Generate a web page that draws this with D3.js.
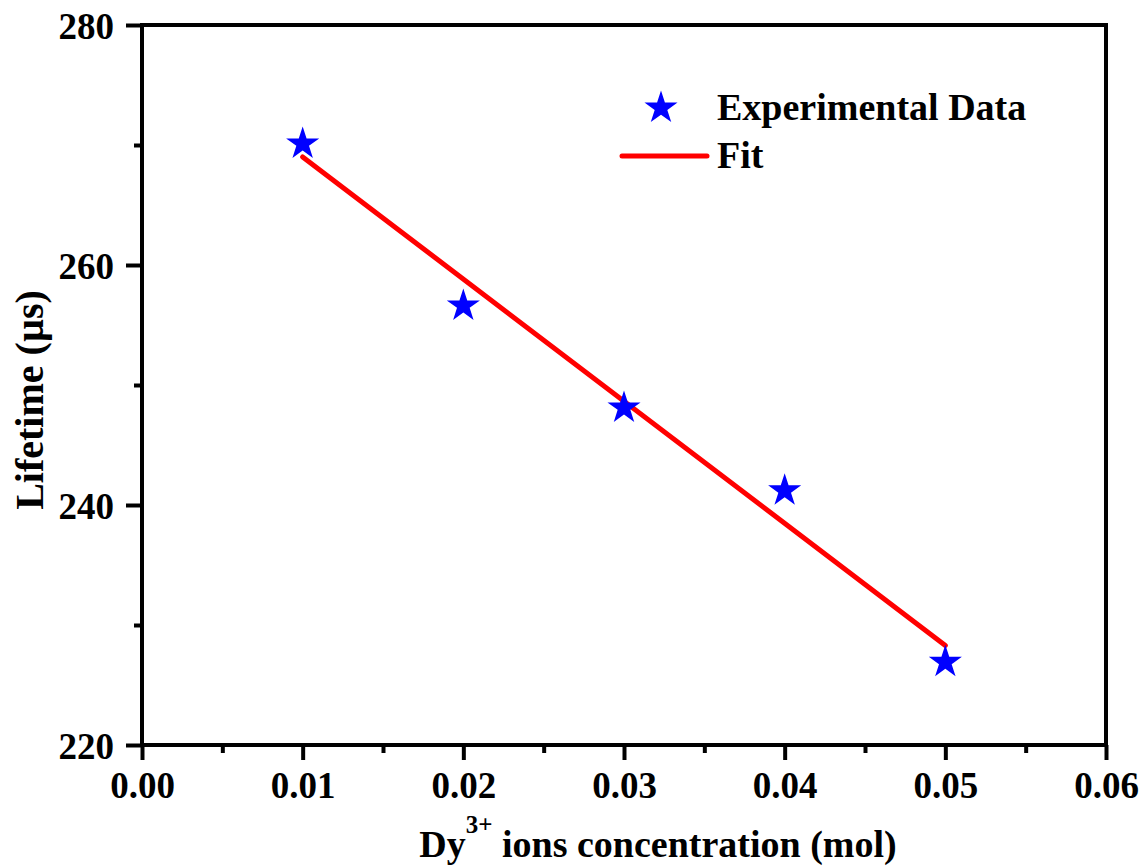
<!DOCTYPE html>
<html>
<head>
<meta charset="utf-8">
<script src="https://cdn.jsdelivr.net/npm/d3@7"></script>
<style>
  html, body { margin: 0; padding: 0; background: #ffffff; }
  svg { display: block; }
  text { font-family: "Liberation Serif", "Times New Roman", serif; font-weight: bold; fill: #000; }
</style>
</head>
<body>
<svg id="chart" width="1146" height="867"></svg>
<script>
// ---- data ----
const concentrations = [0.01, 0.02, 0.03, 0.04, 0.05];
const lifetimes = [270.1, 256.6, 248.1, 241.2, 226.9];
const fitX = [0.01, 0.05];
const fitY = [269.0, 228.3];
const xTicks = [0, 0.01, 0.02, 0.03, 0.04, 0.05, 0.06];
const xMinorTicks = [0.005, 0.015, 0.025, 0.035, 0.045, 0.055];
const yTicks = [220, 240, 260, 280];
const yMinorTicks = [230, 250, 270];
const legendLabels = ["Experimental Data", "Fit"];

// ---- layout ----
const svg = d3.select("#chart");
const pLeft = 142, pRight = 1106, pTop = 25, pBottom = 745;

const x = d3.scaleLinear().domain([0, 0.06]).range([pLeft, pRight]);
const y = d3.scaleLinear().domain([220, 280]).range([pBottom, pTop]);

// axes (bottom)
const gx = svg.append("g").attr("transform", `translate(0,${pBottom})`)
  .call(d3.axisBottom(x).tickValues(xTicks).tickSize(15).tickSizeOuter(0).tickFormat(d3.format(".2f")));
gx.select(".domain").remove();
gx.selectAll(".tick line").attr("stroke", "#000").attr("stroke-width", 4);
gx.selectAll(".tick text").attr("y", 53).attr("dy", 0).style("font-size", "37px");

const gxm = svg.append("g").attr("transform", `translate(0,${pBottom})`)
  .call(d3.axisBottom(x).tickValues(xMinorTicks).tickSize(8).tickSizeOuter(0).tickFormat(""));
gxm.select(".domain").remove();
gxm.selectAll(".tick line").attr("stroke", "#000").attr("stroke-width", 4);

// axes (left)
const gy = svg.append("g").attr("transform", `translate(${pLeft},0)`)
  .call(d3.axisLeft(y).tickValues(yTicks).tickSize(16).tickSizeOuter(0).tickFormat(d3.format("d")));
gy.select(".domain").remove();
gy.selectAll(".tick line").attr("stroke", "#000").attr("stroke-width", 4);
gy.selectAll(".tick text").attr("x", -28).attr("dy", "0.37em").style("font-size", "37px");

const gym = svg.append("g").attr("transform", `translate(${pLeft},0)`)
  .call(d3.axisLeft(y).tickValues(yMinorTicks).tickSize(8).tickSizeOuter(0).tickFormat(""));
gym.select(".domain").remove();
gym.selectAll(".tick line").attr("stroke", "#000").attr("stroke-width", 4);

// frame
svg.append("rect")
  .attr("x", pLeft).attr("y", pTop)
  .attr("width", pRight - pLeft).attr("height", pBottom - pTop)
  .attr("fill", "none").attr("stroke", "#000").attr("stroke-width", 4);

// fit line
const fitData = fitX.map((d, i) => [d, fitY[i]]);
svg.append("path")
  .datum(fitData)
  .attr("fill", "none")
  .attr("stroke", "#ff0000")
  .attr("stroke-width", 5)
  .attr("stroke-linecap", "round")
  .attr("d", d3.line().x(d => x(d[0])).y(d => y(d[1])));

// stars
const star = d3.symbol().type(d3.symbolStar).size(340);
svg.append("g").selectAll("path")
  .data(concentrations.map((c, i) => [c, lifetimes[i]]))
  .join("path")
  .attr("d", star)
  .attr("fill", "#0000ff")
  .attr("transform", d => `translate(${x(d[0])},${y(d[1])})`);

// legend
svg.append("path").attr("d", star).attr("fill", "#0000ff")
  .attr("transform", "translate(661,108)");
svg.append("text").attr("x", 717).attr("y", 120).style("font-size", "38px").text(legendLabels[0]);
svg.append("line").attr("x1", 622).attr("x2", 707).attr("y1", 156).attr("y2", 156)
  .attr("stroke", "#ff0000").attr("stroke-width", 5).attr("stroke-linecap", "round");
svg.append("text").attr("x", 717).attr("y", 168).style("font-size", "38px").text(legendLabels[1]);

// x title
const xt = svg.append("text").attr("x", 658).attr("y", 857).attr("text-anchor", "middle").style("font-size", "38px");
xt.append("tspan").text("Dy");
xt.append("tspan").attr("dy", -24).style("font-size", "25px").text("3+");
xt.append("tspan").attr("dy", 24).text(" ions concentration (mol)");

// y title
svg.append("text")
  .attr("transform", "translate(43,400) rotate(-90)")
  .attr("text-anchor", "middle")
  .style("font-size", "40px")
  .text("Lifetime (\u00b5s)");
</script>
</body>
</html>
